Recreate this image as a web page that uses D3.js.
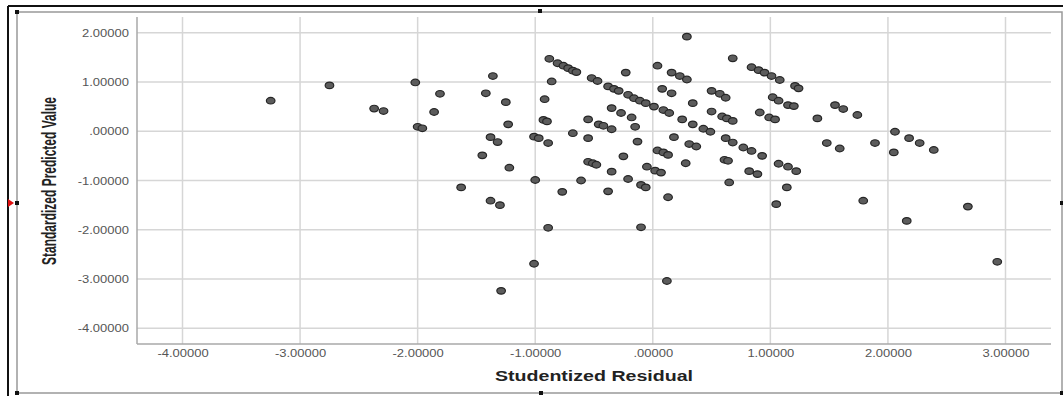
<!DOCTYPE html>
<html>
<head>
<meta charset="utf-8">
<script src="https://cdn.jsdelivr.net/npm/d3@7"></script>
<style>
  body { margin: 0; background: #fff; }
</style>
</head>
<body>
<div id="chart"></div>
<script>
// values (studentized residual, standardized predicted value)
var residual = [
  -3.25, -2.75, -2.37, -2.29, -2.02, -1.81, -1.86, -2.00, -1.96,
  -1.36, -1.42, -1.25, -1.23, -1.38, -0.88, -0.81, -0.76, -0.72, -0.68, -0.65,
  -0.86, -0.92, -0.93, -0.90, -1.01, -0.97, -0.68,
  -1.32, -0.89, -1.45, -1.22, -1.00, -1.63, -0.77, -0.61, -1.38, -1.30, -0.89, -1.01, -1.29,
  0.29, -0.23, 0.04, 0.16, 0.23, 0.29, -0.52, -0.47, -0.38, -0.33, -0.29, -0.21, -0.16,
  -0.11, -0.06, 0.01, 0.09, 0.14, 0.08, 0.16, 0.34, 0.50, 0.50, -0.35, -0.27, -0.18,
  -0.15, -0.55, -0.46, -0.42, -0.35, -0.55, 0.25, 0.34, 0.43, 0.49, 0.18,
  -0.13, 0.31, 0.37, -0.25, 0.04, 0.09, 0.13, 0.28, -0.55, -0.51, -0.48, -0.35, -0.05,
  0.02, 0.07, -0.21, -0.10, -0.06, -0.38, 0.13, -0.10, 0.12,
  0.68, 0.84, 0.90, 0.95, 1.01, 1.08, 1.21, 1.24, 0.57, 0.62, 1.02, 1.07, 1.15, 1.20,
  1.55, 1.62, 0.59, 0.63, 0.68, 0.91, 0.99, 1.04, 1.40, 0.62,
  0.68, 0.77, 0.84, 0.93, 0.61, 0.64, 0.82, 0.89, 1.07, 1.15, 1.22, 1.48, 1.59, 0.65,
  1.14, 1.05,
  1.74, 1.89, 2.06, 2.18, 2.27, 2.39, 2.05, 1.79, 2.16, 2.68, 2.93
];
var predicted = [
  0.62, 0.93, 0.46, 0.41, 0.99, 0.76, 0.39, 0.09, 0.06,
  1.12, 0.77, 0.59, 0.14, -0.12, 1.47, 1.38, 1.33, 1.28, 1.23, 1.20,
  1.01, 0.65, 0.23, 0.20, -0.11, -0.14, -0.04,
  -0.22, -0.24, -0.49, -0.74, -0.99, -1.14, -1.23, -1.00, -1.41, -1.50, -1.96, -2.69, -3.24,
  1.92, 1.19, 1.33, 1.19, 1.12, 1.05, 1.08, 1.02, 0.91, 0.86, 0.82, 0.74, 0.67,
  0.62, 0.57, 0.50, 0.43, 0.37, 0.86, 0.77, 0.57, 0.82, 0.40, 0.47, 0.37, 0.28,
  0.09, 0.24, 0.14, 0.11, 0.04, -0.14, 0.24, 0.14, 0.05, -0.01, -0.12,
  -0.21, -0.26, -0.31, -0.51, -0.39, -0.43, -0.48, -0.65, -0.62, -0.65, -0.68, -0.82, -0.72,
  -0.80, -0.84, -0.97, -1.09, -1.14, -1.22, -1.34, -1.95, -3.04,
  1.48, 1.30, 1.24, 1.19, 1.12, 1.04, 0.92, 0.87, 0.76, 0.68, 0.69, 0.62, 0.53, 0.51,
  0.53, 0.45, 0.30, 0.26, 0.21, 0.38, 0.28, 0.24, 0.26, -0.14,
  -0.23, -0.33, -0.40, -0.50, -0.58, -0.60, -0.81, -0.87, -0.66, -0.72, -0.81, -0.24, -0.35, -1.04,
  -1.14, -1.48,
  0.33, -0.24, -0.01, -0.14, -0.24, -0.38, -0.43, -1.41, -1.82, -1.53, -2.65
];

var xTicks = [-4, -3, -2, -1, 0, 1, 2, 3];
var xTickLabels = ["-4.00000", "-3.00000", "-2.00000", "-1.00000", ".00000", "1.00000", "2.00000", "3.00000"];
var yTicks = [2, 1, 0, -1, -2, -3, -4];
var yTickLabels = ["2.00000", "1.00000", ".00000", "-1.00000", "-2.00000", "-3.00000", "-4.00000"];

var W = 1063, H = 396;
var plot = { left: 137, right: 1051, top: 17, bottom: 344 };

var svg = d3.select("#chart").append("svg")
  .attr("width", W)
  .attr("height", H);

var x = d3.scaleLinear().domain([-4, 3]).range([182.5, 1005.5]);
var y = d3.scaleLinear().domain([-4, 2]).range([328.3, 32.7]);

// outer frame
svg.append("line").attr("x1", 8).attr("x2", W).attr("y1", 6).attr("y2", 6)
  .attr("stroke", "#111").attr("stroke-width", 2);
svg.append("line").attr("x1", 8).attr("x2", 8).attr("y1", 6).attr("y2", H)
  .attr("stroke", "#111").attr("stroke-width", 2);
svg.append("rect").attr("x", 17).attr("y", 12).attr("width", 1045).attr("height", 381)
  .attr("fill", "none").attr("stroke", "#999").attr("stroke-width", 1.5);

// handles
var handles = [[17, 12], [17, 203], [17, 393], [540, 11], [541, 393], [1062, 203], [1062, 393]];
svg.selectAll(".handle").data(handles).enter().append("rect")
  .attr("class", "handle")
  .attr("x", d => d[0] - 2).attr("y", d => d[1] - 2)
  .attr("width", 4).attr("height", 4)
  .attr("fill", "#111");
svg.append("path").attr("d", "M8,199 L14,203 L8,207 Z").attr("fill", "#e01010");

// grid
svg.selectAll(".vgrid").data(xTicks).enter().append("line")
  .attr("x1", d => x(d)).attr("x2", d => x(d))
  .attr("y1", plot.top).attr("y2", plot.bottom)
  .attr("stroke", "#d6d6d6").attr("stroke-width", 1.5);
svg.selectAll(".hgrid").data(yTicks).enter().append("line")
  .attr("x1", plot.left).attr("x2", plot.right)
  .attr("y1", d => y(d)).attr("y2", d => y(d))
  .attr("stroke", "#d6d6d6").attr("stroke-width", 1.5);

// axis lines
svg.append("line").attr("x1", plot.left).attr("x2", plot.left)
  .attr("y1", plot.top).attr("y2", plot.bottom)
  .attr("stroke", "#a8a8a8").attr("stroke-width", 1.5);
svg.append("line").attr("x1", plot.left).attr("x2", plot.right)
  .attr("y1", plot.bottom).attr("y2", plot.bottom)
  .attr("stroke", "#a8a8a8").attr("stroke-width", 1.5);

// tick labels
var xAxis = svg.append("g")
  .attr("transform", "translate(0," + plot.bottom + ")")
  .call(d3.axisBottom(x).tickValues(xTicks).tickFormat((d, i) => xTickLabels[i]).tickSize(0));
xAxis.select(".domain").remove();
xAxis.selectAll("text")
  .attr("y", 13.5).attr("dy", null)
  .attr("transform", "scale(1.3,1)")
  .attr("fill", "#555")
  .attr("font-family", "Liberation Sans, Arial, sans-serif")
  .attr("font-size", 10);

var yAxis = svg.append("g")
  .attr("transform", "translate(" + plot.left + ",0)")
  .call(d3.axisLeft(y).tickValues(yTicks).tickFormat((d, i) => yTickLabels[i]).tickSize(0));
yAxis.select(".domain").remove();
yAxis.selectAll("text")
  .attr("x", -6.2).attr("dy", "0.35em")
  .attr("transform", "scale(1.3,1)")
  .attr("fill", "#555")
  .attr("font-family", "Liberation Sans, Arial, sans-serif")
  .attr("font-size", 10);

// axis titles
svg.append("text")
  .attr("x", (plot.left + plot.right) / 2)
  .attr("y", 381)
  .attr("text-anchor", "middle")
  .attr("font-family", "Liberation Sans, Arial, sans-serif")
  .attr("font-weight", "bold")
  .attr("font-size", 14)
  .attr("fill", "#222")
  .attr("textLength", 198)
  .attr("lengthAdjust", "spacingAndGlyphs")
  .text("Studentized Residual");

svg.append("text")
  .attr("transform", "translate(56,181) rotate(-90) scale(1,1.5)")
  .attr("text-anchor", "middle")
  .attr("font-family", "Liberation Sans Narrow, Arial Narrow, Liberation Sans, sans-serif")
  .attr("font-weight", "bold")
  .attr("font-size", 13)
  .attr("fill", "#222")
  .attr("textLength", 168)
  .attr("lengthAdjust", "spacingAndGlyphs")
  .text("Standardized Predicted Value");

// points
svg.append("g").selectAll("ellipse")
  .data(d3.range(residual.length))
  .enter().append("ellipse")
  .attr("cx", i => x(residual[i]))
  .attr("cy", i => y(predicted[i]))
  .attr("rx", 4.3)
  .attr("ry", 3.3)
  .attr("fill", "#5c5c5c")
  .attr("stroke", "#262626")
  .attr("stroke-width", 1.2);
</script>
</body>
</html>
